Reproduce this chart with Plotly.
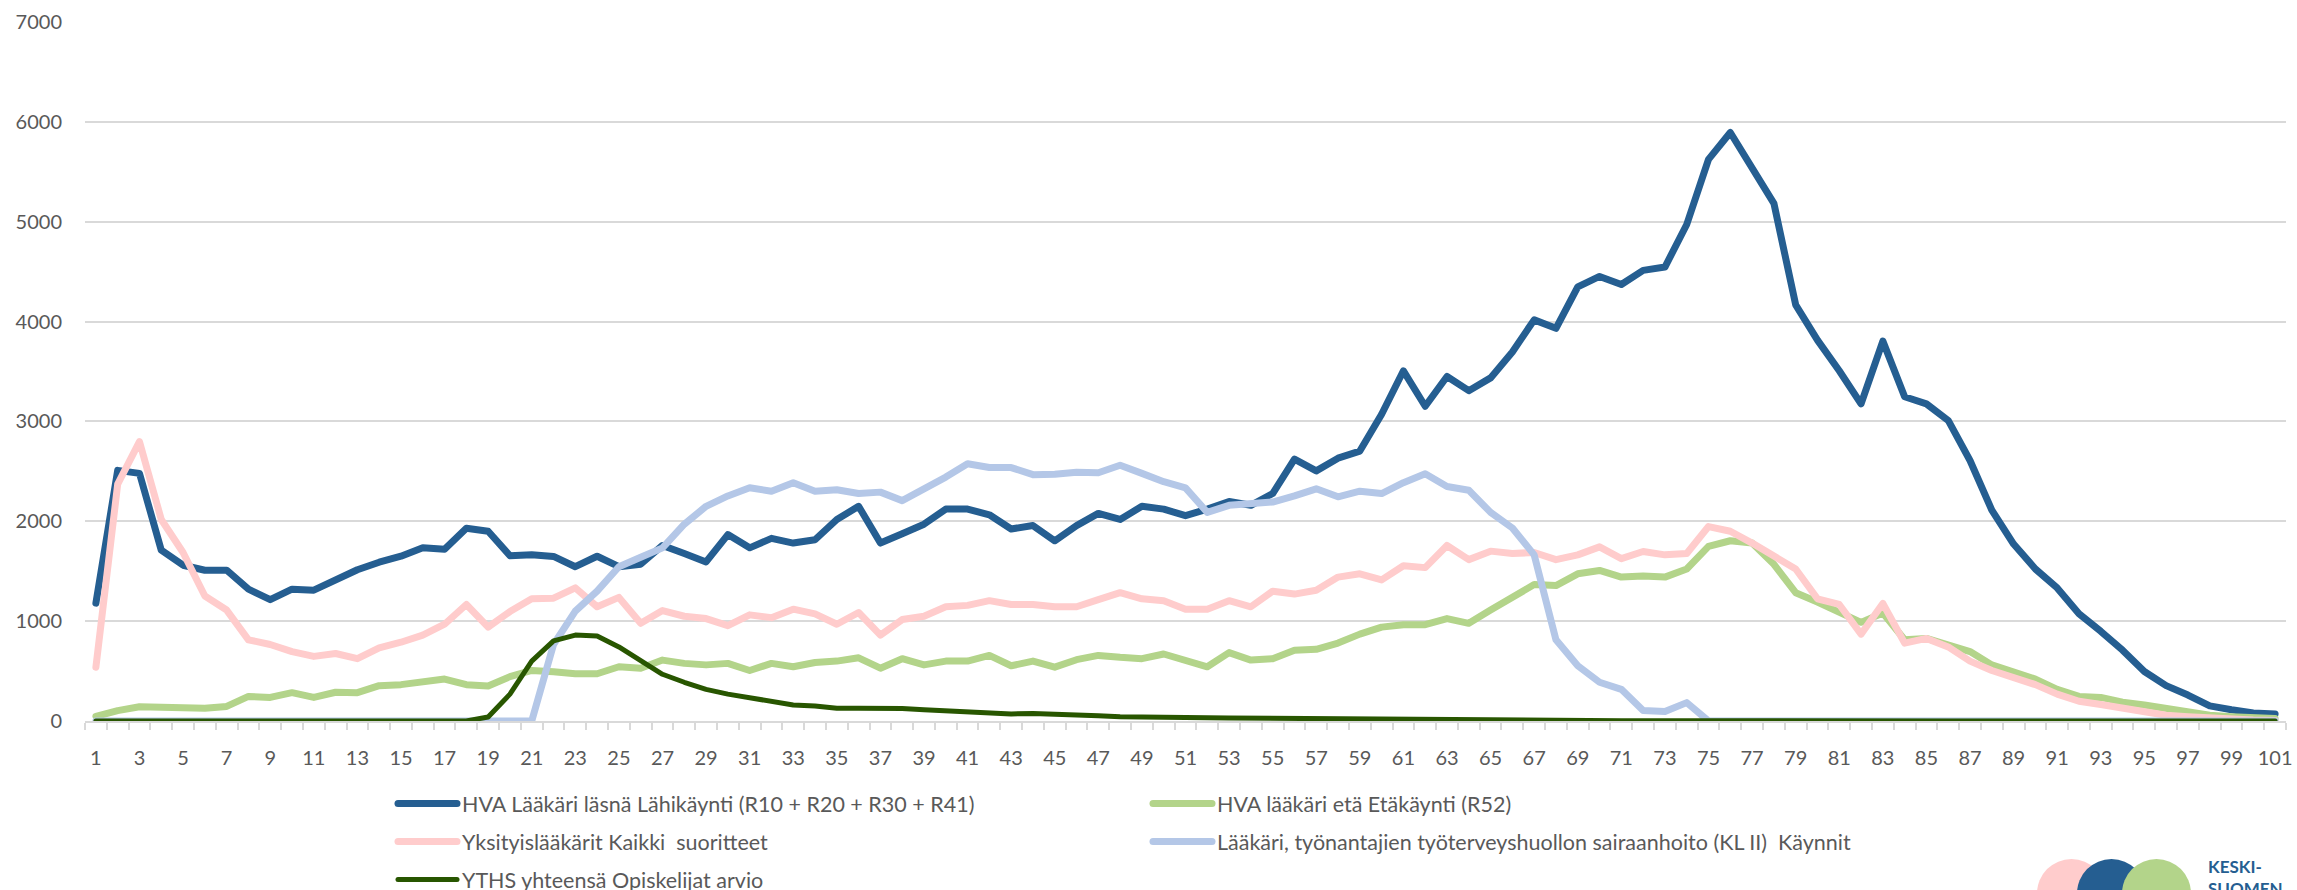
import plotly.graph_objects as go

# Viikko / luokka 1..101
x_vals = list(range(1, 102))

# HVA Lääkäri läsnä Lähikäynti (R10 + R20 + R30 + R41)
hva_lasna = [1180, 2510, 2480, 1710, 1560, 1510, 1510, 1320, 1215, 1320,
             1310, 1410, 1515, 1590, 1650, 1735, 1720, 1930, 1900, 1655,
             1665, 1648, 1545, 1650, 1545, 1570, 1758, 1678, 1593, 1867,
             1734, 1829, 1782, 1815, 2018, 2150, 1782, 1876, 1971, 2122,
             2122, 2065, 1923, 1957, 1805, 1957, 2079, 2018, 2150, 2122,
             2056, 2122, 2198, 2160, 2278, 2623, 2505, 2632, 2703, 3072,
             3507, 3152, 3450, 3308, 3436, 3696, 4017, 3932, 4348, 4452,
             4371, 4513, 4546, 4972, 5624, 5893, 5539, 5184, 4168, 3814,
             3507, 3176, 3804, 3247, 3176, 3010, 2609, 2112, 1772, 1522,
             1333, 1073, 898, 709, 496, 354, 260, 151, 113, 80,
             71]

# HVA lääkäri etä Etäkäynti (R52)
hva_eta = [47, 104, 142, 132, 128, 128, 146, 246, 236, 284,
           236, 288, 284, 354, 364, 388, 420, 364, 350, 444,
           506, 494, 473, 473, 543, 529, 610, 577, 562, 577,
           506, 577, 543, 586, 600, 633, 529, 624, 562, 600,
           600, 657, 553, 600, 539, 614, 657, 638, 624, 671,
           614, 543, 685, 610, 624, 709, 718, 780, 870, 940,
           964, 964, 1026, 978, 1111, 1238, 1366, 1356, 1474, 1508,
           1441, 1451, 1441, 1522, 1749, 1805, 1782, 1569, 1285, 1191,
           1096, 988, 1082, 813, 827, 766, 695, 562, 482, 420,
           317, 246, 236, 189, 161, 128, 80, 57, 43, 33,
           24]

# Yksityislääkärit Kaikki suoritteet
yksityis = [539, 2372, 2798, 2018, 1687, 1252, 1111, 813, 766, 695,
            647, 676, 624, 733, 789, 860, 969, 1167, 940, 1096,
            1224, 1230, 1333, 1144, 1238, 978, 1106, 1049, 1026, 955,
            1063, 1035, 1120, 1073, 969, 1087, 860, 1016, 1049, 1144,
            1158, 1205, 1167, 1167, 1144, 1144, 1215, 1285, 1224, 1205,
            1120, 1120, 1205, 1144, 1300, 1271, 1309, 1441, 1474, 1413,
            1555, 1536, 1758, 1616, 1701, 1678, 1687, 1616, 1664, 1744,
            1626, 1697, 1664, 1678, 1947, 1900, 1782, 1650, 1522, 1224,
            1167, 870, 1177, 780, 827, 742, 600, 506, 435, 364,
            269, 198, 165, 128, 90, 57, 43, 28, 19, 9,
            5]

# Lääkäri, työnantajien työterveyshuollon sairaanhoito (KL II) Käynnit
tyoterveys = [0, 0, 0, 0, 0, 0, 0, 0, 0, 0,
              0, 0, 0, 0, 0, 0, 0, 0, 0, 0,
              0, 766, 1100, 1300, 1545, 1640, 1734, 1971, 2150, 2254,
              2335, 2301, 2387, 2301, 2316, 2278, 2292, 2207, 2316, 2443,
              2576, 2538, 2538, 2467, 2472, 2491, 2486, 2561, 2480, 2396,
              2335, 2089, 2160, 2174, 2193, 2254, 2325, 2245, 2301, 2278,
              2387, 2476, 2349, 2311, 2089, 1933, 1664, 813, 553, 388,
              317, 104, 95, 184, 0, 0, 0, 0, 0, 0,
              0, 0, 0, 0, 0, 0, 0, 0, 0, 0,
              0, 0, 0, 0, 0, 0, 0, 0, 0, 0,
              0]

# YTHS yhteensä Opiskelijat arvio
yths = [0, 0, 0, 0, 0, 0, 0, 0, 0, 0,
        0, 0, 0, 0, 0, 0, 0, 0, 40, 269,
        600, 803, 860, 851, 742, 600, 468, 388, 317, 269,
        236, 198, 161, 151, 128, 128, 128, 125, 113, 104,
        99, 80, 71, 76, 71, 61, 52, 43, 43, 38,
        35, 33, 30, 28, 25, 23, 20, 18, 16, 14,
        12, 10, 9, 8, 7, 6, 5, 5, 4, 4,
        3, 3, 2, 2, 2, 1, 1, 1, 1, 1,
        1, 1, 1, 1, 1, 1, 1, 1, 1, 1,
        1, 1, 1, 1, 1, 1, 1, 1, 1, 1,
        1]

# Series in Excel drawing order
series = [
    ('HVA Lääkäri läsnä Lähikäynti (R10 + R20 + R30 + R41)', hva_lasna, '#255E91', 7, 'legend'),
    ('HVA lääkäri etä Etäkäynti (R52)', hva_eta, '#B3D48A', 7, 'legend2'),
    ('Yksityislääkärit Kaikki  suoritteet', yksityis, '#FFCCCC', 7, 'legend'),
    ('Lääkäri, työnantajien työterveyshuollon sairaanhoito (KL II)  Käynnit', tyoterveys, '#B4C7E7', 7, 'legend2'),
    ('YTHS yhteensä Opiskelijat arvio', yths, '#285600', 5, 'legend'),
]

FONT = 'Lato, Carlito, Liberation Sans, sans-serif'
GREY = '#595959'

fig = go.Figure()
for i, (name, vals, col, w, leg) in enumerate(series):
    fig.add_trace(go.Scatter(x=x_vals, y=vals, name=name, mode='lines',
                             line=dict(color=col, width=w),
                             legend=leg, legendgroup='g%d' % i))

W, H = 2297, 890
L, R, T, B = 85, 11, 22, 169

leg_common = dict(orientation='v', xref='container', yref='container',
                  yanchor='top', xanchor='left', itemwidth=59,
                  tracegroupgap=7, bgcolor='rgba(0,0,0,0)',
                  font=dict(family=FONT, size=21.5, color=GREY))

fig.update_layout(
    width=W, height=H,
    margin=dict(l=L, r=R, t=T, b=B, autoexpand=False),
    paper_bgcolor='white', plot_bgcolor='white',
    font=dict(family=FONT, size=20, color=GREY),
    showlegend=True,
    legend=dict(x=393 / W, y=1 - 783 / H, **leg_common),
    legend2=dict(x=1148 / W, y=1 - 783 / H, **leg_common),
    xaxis=dict(range=[0.5, 101.5], tickmode='linear', tick0=1, dtick=2,
               tickangle=0, automargin=False,
               showgrid=False, zeroline=False, showline=True,
               linecolor='#D9D9D9', linewidth=1.5, ticks='',
               ticklabelstandoff=18,
               tickfont=dict(family=FONT, size=20, color=GREY),
               minor=dict(ticks='outside', tick0=0.5, dtick=1, ticklen=7,
                          tickwidth=1.5, tickcolor='#D9D9D9', showgrid=False)),
    yaxis=dict(range=[0, 7000], dtick=1000, showgrid=True, automargin=False,
               gridcolor='#D9D9D9', gridwidth=1.5, zeroline=False,
               showline=False, ticks='', ticklabelstandoff=22,
               tickfont=dict(family=FONT, size=20, color=GREY)),
)

# Logo bottom right (Keski-Suomen ...)
pw = W - L - R
ph = H - T - B


def px_x(v):
    return (v - L) / pw


def px_y(v):
    return (H - B - v) / ph


for x0, x1, col in [(2037, 2106, '#FFCCCC'), (2077, 2146, '#255E91'), (2122, 2191, '#B3D48A')]:
    fig.add_shape(type='circle', xref='paper', yref='paper',
                  x0=px_x(x0), x1=px_x(x1), y0=px_y(859), y1=px_y(928),
                  fillcolor=col, line=dict(width=0), layer='above')

fig.add_annotation(text='<b>KESKI-</b><br><b>SUOMEN</b>', xref='paper', yref='paper',
                   x=px_x(2206), y=px_y(854), xanchor='left', yanchor='top',
                   align='left', showarrow=False,
                   font=dict(family=FONT, size=17, color='#255E91'))

# round line joins/caps like the Excel original
js = ("document.body.style.margin='0';"
      "document.querySelectorAll('.scatterlayer path.js-line, .legendlines path')"
      ".forEach(function(p){p.style.strokeLinejoin='round';p.style.strokeLinecap='round';});")

fig.write_html("out.html", config=dict(displayModeBar=False), post_script=js)
